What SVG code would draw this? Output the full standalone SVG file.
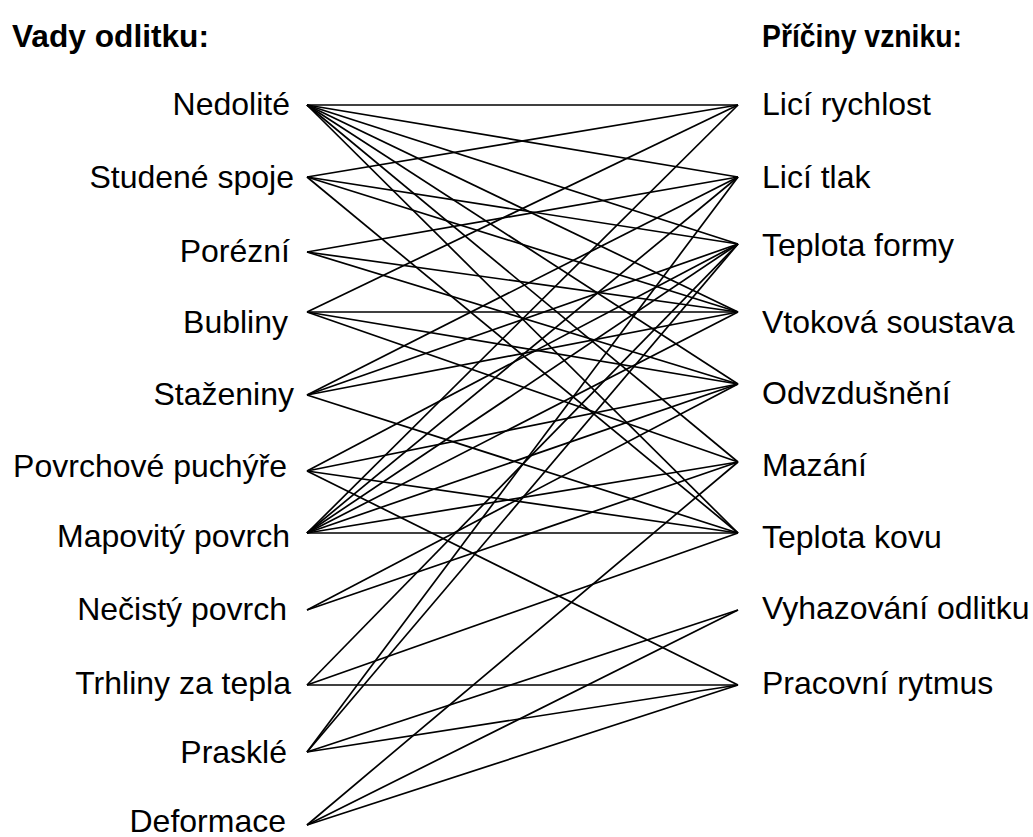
<svg xmlns="http://www.w3.org/2000/svg" width="1033" height="837" viewBox="0 0 1033 837">
<style>
.t{font-family:"Liberation Sans",Arial,sans-serif;font-size:32px;fill:#000}
.h{font-family:"Liberation Sans",Arial,sans-serif;font-size:31px;font-weight:bold;fill:#000}
.l{text-anchor:end}
#edges line{stroke:#000;stroke-width:1.7}
</style>
<rect width="1033" height="837" fill="#fff"/>
<g id="headers">
<text class="h" x="12" y="47" textLength="197" lengthAdjust="spacingAndGlyphs">Vady odlitku:</text>
<text class="h" x="762" y="47" textLength="200" lengthAdjust="spacingAndGlyphs">Příčiny vzniku:</text>
</g>
<g id="edges">
<line x1="307" y1="105" x2="738" y2="105"/>
<line x1="307" y1="105" x2="738" y2="177"/>
<line x1="307" y1="105" x2="738" y2="244"/>
<line x1="307" y1="105" x2="738" y2="312"/>
<line x1="307" y1="105" x2="738" y2="384"/>
<line x1="307" y1="105" x2="738" y2="462"/>
<line x1="307" y1="105" x2="738" y2="533"/>
<line x1="307" y1="177" x2="738" y2="105"/>
<line x1="307" y1="177" x2="738" y2="244"/>
<line x1="307" y1="177" x2="738" y2="312"/>
<line x1="307" y1="177" x2="738" y2="533"/>
<line x1="307" y1="252" x2="738" y2="177"/>
<line x1="307" y1="252" x2="738" y2="312"/>
<line x1="307" y1="252" x2="738" y2="384"/>
<line x1="307" y1="312" x2="738" y2="105"/>
<line x1="307" y1="312" x2="738" y2="312"/>
<line x1="307" y1="312" x2="738" y2="384"/>
<line x1="307" y1="312" x2="738" y2="462"/>
<line x1="307" y1="395" x2="738" y2="177"/>
<line x1="307" y1="395" x2="738" y2="244"/>
<line x1="307" y1="395" x2="738" y2="312"/>
<line x1="307" y1="395" x2="738" y2="533"/>
<line x1="307" y1="471" x2="738" y2="244"/>
<line x1="307" y1="471" x2="738" y2="384"/>
<line x1="307" y1="471" x2="738" y2="533"/>
<line x1="307" y1="471" x2="738" y2="685"/>
<line x1="307" y1="533" x2="738" y2="105"/>
<line x1="307" y1="533" x2="738" y2="177"/>
<line x1="307" y1="533" x2="738" y2="244"/>
<line x1="307" y1="533" x2="738" y2="312"/>
<line x1="307" y1="533" x2="738" y2="384"/>
<line x1="307" y1="533" x2="738" y2="462"/>
<line x1="307" y1="533" x2="738" y2="533"/>
<line x1="307" y1="610" x2="738" y2="384"/>
<line x1="307" y1="610" x2="738" y2="462"/>
<line x1="307" y1="685" x2="738" y2="244"/>
<line x1="307" y1="685" x2="738" y2="533"/>
<line x1="307" y1="685" x2="738" y2="685"/>
<line x1="307" y1="752" x2="738" y2="177"/>
<line x1="307" y1="752" x2="738" y2="244"/>
<line x1="307" y1="752" x2="738" y2="610"/>
<line x1="307" y1="752" x2="738" y2="685"/>
<line x1="307" y1="825" x2="738" y2="462"/>
<line x1="307" y1="825" x2="738" y2="610"/>
<line x1="307" y1="825" x2="738" y2="685"/>
</g>
<g id="n-nedolite"><text class="t l" x="290" y="115">Nedolité</text></g>
<g id="n-studene"><text class="t l" x="294" y="188">Studené spoje</text></g>
<g id="n-porezni"><text class="t l" x="290" y="262">Porézní</text></g>
<g id="n-bubliny"><text class="t l" x="288" y="333">Bubliny</text></g>
<g id="n-stazeniny"><text class="t l" x="294" y="405">Staženiny</text></g>
<g id="n-povrchove"><text class="t l" x="287" y="477">Povrchové puchýře</text></g>
<g id="n-mapovity"><text class="t l" x="290" y="547">Mapovitý povrch</text></g>
<g id="n-necisty"><text class="t l" x="287" y="620">Nečistý povrch</text></g>
<g id="n-trhliny"><text class="t l" x="291" y="694">Trhliny za tepla</text></g>
<g id="n-praskle"><text class="t l" x="287" y="763">Prasklé</text></g>
<g id="n-deformace"><text class="t l" x="286" y="832">Deformace</text></g>
<g id="n-lici-rychlost"><text class="t" x="762" y="115">Licí rychlost</text></g>
<g id="n-lici-tlak"><text class="t" x="762" y="188">Licí tlak</text></g>
<g id="n-teplota-formy"><text class="t" x="762" y="256">Teplota formy</text></g>
<g id="n-vtokova"><text class="t" x="762" y="333">Vtoková soustava</text></g>
<g id="n-odvzdusneni"><text class="t" x="762" y="404">Odvzdušnění</text></g>
<g id="n-mazani"><text class="t" x="762" y="476">Mazání</text></g>
<g id="n-teplota-kovu"><text class="t" x="762" y="548">Teplota kovu</text></g>
<g id="n-vyhazovani"><text class="t" x="762" y="619">Vyhazování odlitku</text></g>
<g id="n-pracovni"><text class="t" x="762" y="694">Pracovní rytmus</text></g>
</svg>
